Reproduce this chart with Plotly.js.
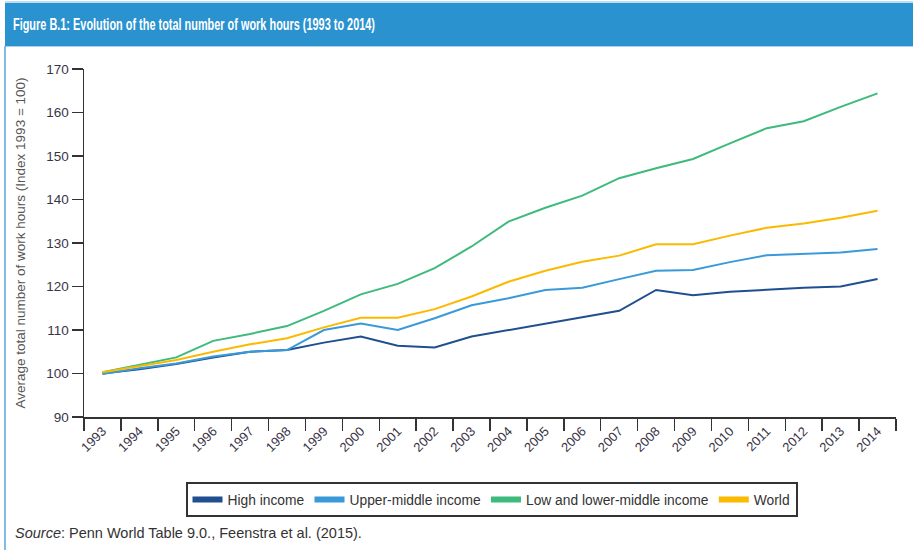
<!DOCTYPE html>
<html>
<head>
<meta charset="utf-8">
<script src="https://cdn.plot.ly/plotly-3.0.1.min.js"></script>
<style>html,body{margin:0;padding:0;background:#fff;}#chart{width:913px;height:550px;}</style>
</head>
<body>
<div id="chart"></div>
<script>
const years = ["1993","1994","1995","1996","1997","1998","1999","2000","2001","2002","2003","2004","2005","2006","2007","2008","2009","2010","2011","2012","2013","2014"];
const highIncome = [100.0,101.0,102.2,103.7,105.0,105.4,107.1,108.5,106.4,106.0,108.5,110.0,111.5,112.9,114.4,119.2,118.0,118.8,119.3,119.7,120.0,121.7];
const upperMiddle = [99.9,101.2,102.3,103.9,105.0,105.4,110.0,111.5,110.0,112.7,115.7,117.3,119.2,119.7,121.7,123.6,123.8,125.6,127.2,127.5,127.8,128.6];
const lowLowerMiddle = [100.3,102.0,103.7,107.5,109.1,110.9,114.4,118.2,120.6,124.2,129.2,134.9,138.1,140.9,144.9,147.2,149.3,152.9,156.4,158.0,161.3,164.4];
const world = [100.3,101.7,103.1,105.0,106.7,108.1,110.6,112.8,112.8,114.8,117.7,121.1,123.6,125.7,127.1,129.7,129.7,131.7,133.5,134.5,135.8,137.4];
const seriesNames = ["High income","Upper-middle income","Low and lower-middle income","World"];
const seriesColors = ["#1f4f8f","#3a9ad9","#3dba7c","#fbb900"];
const seriesValues = [highIncome, upperMiddle, lowLowerMiddle, world];

const traces = [];
seriesValues.forEach((vals, i) => {
  traces.push({x: years, y: vals, type: "scatter", mode: "lines", name: seriesNames[i],
    line: {color: seriesColors[i], width: 2}, showlegend: false, hoverinfo: "x+y+name"});
});
seriesValues.forEach((vals, i) => {
  traces.push({x: [null], y: [null], type: "scatter", mode: "lines", name: seriesNames[i],
    line: {color: seriesColors[i], width: 6}, showlegend: true, hoverinfo: "skip"});
});

// plot area pixels: x 84..896, y 69..417
const L = 84, R = 896, T = 69, B = 417;
const px = v => (v - L) / (R - L);
const py = v => (B - v) / (B - T);

const font = "Liberation Sans, Arial, Helvetica, sans-serif";
const layout = {
  width: 913, height: 550,
  margin: {l: L, r: 913 - R, t: T, b: 550 - B},
  paper_bgcolor: "#ffffff", plot_bgcolor: "#ffffff",
  font: {family: font, size: 12, color: "#333333"},
  title: {text: "<b>Figure B.1: Evolution of the total number of work hours (1993 to 2014)</b>",
    font: {family: font, size: 17, color: "#ffffff"},
    xref: "container", yref: "container", x: 13/913, xanchor: "left", y: 1 - 24.5/550, yanchor: "middle"},
  xaxis: {type: "category", range: [-0.5, 21.5], tickson: "boundaries", ticks: "outside", ticklen: 12,
    tickwidth: 1.5, tickcolor: "#333", showline: true, linecolor: "#333", linewidth: 1.5,
    showgrid: false, zeroline: false, tickangle: -45, tickfont: {size: 13, color: "#3a3546"}, fixedrange: true},
  yaxis: {range: [90, 170], dtick: 10, ticks: "outside", ticklen: 11, tickwidth: 1.5, tickcolor: "#333",
    showline: true, linecolor: "#333", linewidth: 1.5, showgrid: false, zeroline: false,
    tickfont: {size: 13.5, color: "#3a3546"},
    title: {text: "Average total number of work hours (Index 1993 = 100)", font: {size: 13.5, color: "#555"}, standoff: 17},
    fixedrange: true},
  legend: {orientation: "h", x: px(491.5), xanchor: "center", y: py(482), yanchor: "top",
    bordercolor: "#333", borderwidth: 2, bgcolor: "#fff", font: {size: 13.8, color: "#333"},
    itemwidth: 30, tracegroupgap: 0},
  shapes: [
    {type: "rect", xref: "paper", yref: "paper", x0: px(5), x1: px(915), y0: py(46), y1: py(3),
      fillcolor: "#2b92d0", line: {width: 0}, layer: "below"},
    {type: "line", xref: "paper", yref: "paper", x0: px(5), x1: px(915), y0: py(2), y1: py(2),
      line: {color: "#a9d2ee", width: 1.5}},
    {type: "line", xref: "paper", yref: "paper", x0: px(5), x1: px(915), y0: py(46.5), y1: py(46.5),
      line: {color: "#a9d2ee", width: 1}},
    {type: "line", xref: "paper", yref: "paper", x0: px(5), x1: px(5), y0: py(46), y1: py(552),
      line: {color: "#7fbde6", width: 2}}
  ],
  annotations: [
    {xref: "paper", yref: "paper", x: px(13), y: py(533), xanchor: "left", yanchor: "middle", showarrow: false,
      text: "<i>Source</i>: Penn World Table 9.0., Feenstra et al. (2015).", font: {size: 14.5, color: "#333"}}
  ]
};

Plotly.newPlot("chart", traces, layout, {displayModeBar: false, staticPlot: true}).then(gd => {
  // condense the banner title like the reference's condensed typeface
  const t = gd.querySelector(".gtitle");
  if (t) { t.setAttribute("textLength", "362"); t.setAttribute("lengthAdjust", "spacingAndGlyphs"); }
});
</script>
</body>
</html>
